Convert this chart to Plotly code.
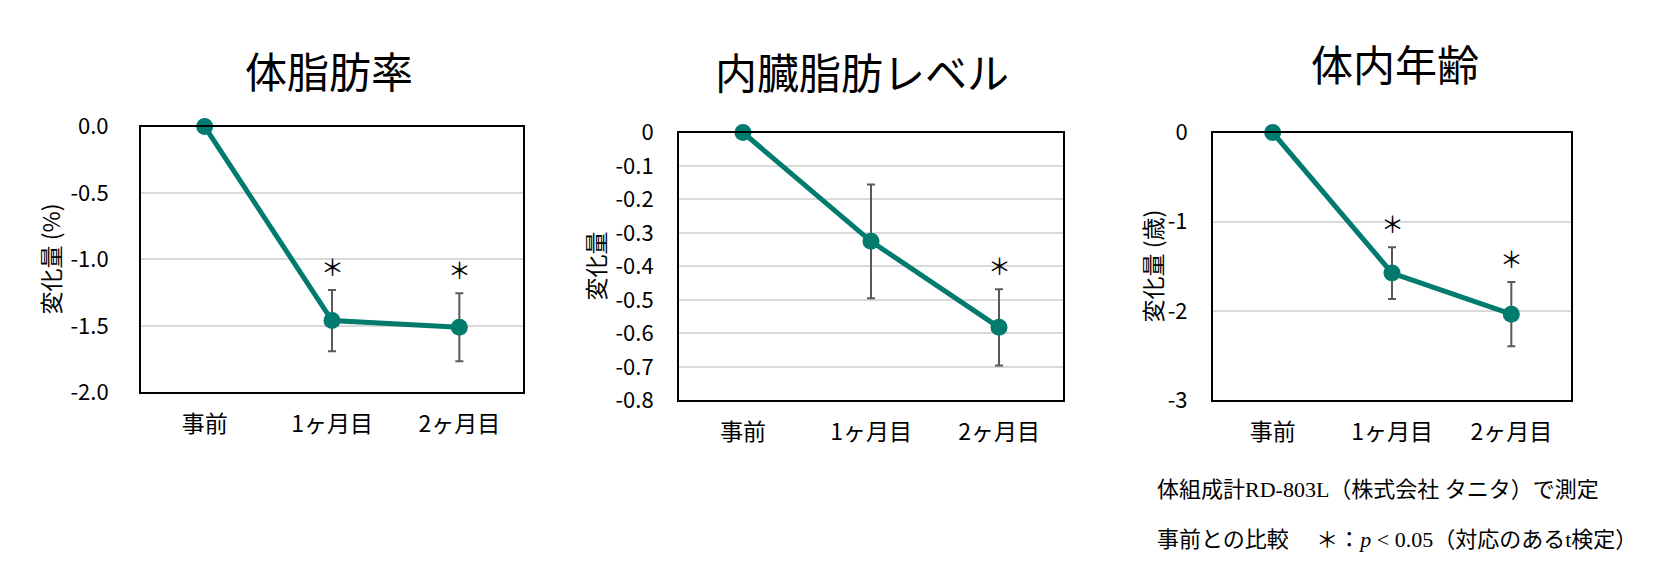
import plotly.graph_objects as go

categories = ["事前", "1ヶ月目", "2ヶ月目"]

titles = ["体脂肪率", "内臓脂肪レベル", "体内年齢"]
ylabels = ["変化量 (%)", "変化量", "変化量 (歳)"]

fat_mean = [0.0, -1.46, -1.51]
fat_err = [0.0, 0.23, 0.255]
fat_sig = [False, True, True]

visc_mean = [0.0, -0.325, -0.582]
visc_err = [0.0, 0.17, 0.114]
visc_sig = [False, False, True]

age_mean = [0.0, -1.574, -2.035]
age_err = [0.0, 0.29, 0.36]
age_sig = [False, True, True]

fat_ticks = [0.0, -0.5, -1.0, -1.5, -2.0]
fat_ticktext = ["0.0", "-0.5", "-1.0", "-1.5", "-2.0"]
visc_ticks = [0, -0.1, -0.2, -0.3, -0.4, -0.5, -0.6, -0.7, -0.8]
visc_ticktext = ["0", "-0.1", "-0.2", "-0.3", "-0.4", "-0.5", "-0.6", "-0.7", "-0.8"]
age_ticks = [0, -1, -2, -3]
age_ticktext = ["0", "-1", "-2", "-3"]

notes = [
    "体組成計RD-803L（株式会社 タニタ）で測定",
    "事前との比較　 ＊：<i>p</i> &lt; 0.05（対応のあるt検定）",
]

# page body has an 8px default margin; size the figure so the page fits the window
M = 8
W, H = 1679 - 2 * M, 570 - 2 * M
# measured vertical mapping of the captured picture (screen = SY * page + OY)
SY, OY = 0.95, 15.0
TEAL = "#007B6E"
FONT = "Noto Sans CJK JP"


def px(x):
    return (x - M) / W


def py(y):
    page = (y - OY) / SY
    return 1 - (page - M) / H


panels = [
    dict(mean=fat_mean, err=fat_err, sig=fat_sig, ticks=fat_ticks, ticktext=fat_ticktext,
         bx=(141, 523), by=(124, 392), ylab_x=50, tgap=26, title_xy=(329, 66)),
    dict(mean=visc_mean, err=visc_err, sig=visc_sig, ticks=visc_ticks, ticktext=visc_ticktext,
         bx=(679, 1063), by=(130, 400), ylab_x=595, tgap=19, title_xy=(862, 67)),
    dict(mean=age_mean, err=age_err, sig=age_sig, ticks=age_ticks, ticktext=age_ticktext,
         bx=(1213, 1571), by=(130, 400), ylab_x=1152, tgap=19, title_xy=(1395, 59)),
]

fig = go.Figure()
annotations = []
layout_axes = {}

for i, p in enumerate(panels):
    n = "" if i == 0 else str(i + 1)
    xa, ya = "x" + n, "y" + n
    fig.add_trace(go.Scatter(
        x=categories, y=p["mean"], xaxis=xa, yaxis=ya, mode="lines+markers",
        line=dict(color=TEAL, width=5), marker=dict(color=TEAL, size=17),
        error_y=dict(type="data", array=p["err"], color="#595959", thickness=2, width=4),
        showlegend=False, cliponaxis=False,
    ))
    x0, x1 = p["bx"]
    y0, y1 = p["by"]
    layout_axes["xaxis" + n] = dict(
        domain=[px(x0), px(x1)], anchor=ya, type="category", range=[-0.5, 2.5],
        showline=True, mirror=True, linecolor="black", linewidth=2,
        showgrid=False, zeroline=False, ticks="outside", ticklen=10,
        tickcolor="rgba(0,0,0,0)", tickfont=dict(family=FONT, size=23, color="black"),
    )
    layout_axes["yaxis" + n] = dict(
        domain=[py(y1), py(y0)], anchor=xa,
        range=[min(p["ticks"]), max(p["ticks"])],
        tickvals=p["ticks"], ticktext=p["ticktext"],
        showline=True, mirror=True, linecolor="black", linewidth=2,
        showgrid=True, gridcolor="#d9d9d9", gridwidth=1.5, zeroline=False,
        ticks="outside", ticklen=p["tgap"], tickcolor="rgba(0,0,0,0)",
        tickfont=dict(family=FONT, size=22, color="black"),
    )
    annotations.append(dict(
        text=titles[i], x=px(p["title_xy"][0]), y=py(p["title_xy"][1]),
        xref="paper", yref="paper", xanchor="center", yanchor="middle", showarrow=False,
        font=dict(family=FONT, size=42, color="black"),
    ))
    annotations.append(dict(
        text=ylabels[i], x=px(p["ylab_x"]), y=py((y0 + y1) / 2),
        xref="paper", yref="paper", xanchor="center", yanchor="middle", showarrow=False,
        textangle=-90, font=dict(family=FONT, size=23, color="black"),
    ))
    for c, m, e, s in zip(categories, p["mean"], p["err"], p["sig"]):
        if s:
            annotations.append(dict(
                text="＊", x=c, y=m + e, xref=xa, yref=ya, xanchor="center",
                yanchor="bottom", yshift=5, showarrow=False,
                font=dict(family=FONT, size=23, color="black"),
            ))

for k, t in enumerate(notes):
    annotations.append(dict(
        text=t, x=px(1155), y=py(490 + 50 * k), xref="paper", yref="paper",
        xanchor="left", yanchor="middle", showarrow=False,
        font=dict(family="Liberation Serif, Noto Sans CJK JP", size=22, color="black"),
    ))

fig.update_layout(
    width=W, height=H, margin=dict(l=0, r=0, t=0, b=0),
    paper_bgcolor="white", plot_bgcolor="white",
    annotations=annotations, **layout_axes,
)

fig.write_html("out.html")
